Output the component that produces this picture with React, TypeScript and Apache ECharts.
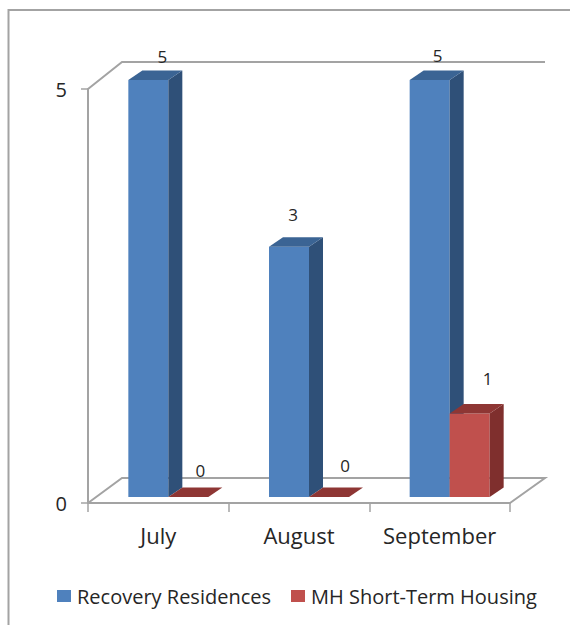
import React, { useEffect, useRef } from "react";
import * as echarts from "echarts";

const categories = ["July", "August", "September"];
const recoveryResidences = [5, 3, 5];
const shortTermHousing = [0, 0, 1];
const seriesNames = ["Recovery Residences", "MH Short-Term Housing"];
const recoveryLabelNudge = [[14, -24], [4, -32], [8, -25]];
const housingLabelNudge = [[12, -27], [16, -32], [18, -35]];

const FONT = "Open Sans";
const AXIS = "#a3a3a3";
const TEXT = "#262626";
const BAR_W = 40;
const DEPTH_X = 14;
const DEPTH_Y = 9.5;

const bar3d = (side: number, front: string, sideC: string, topC: string, nudges: number[][]) =>
  (_: any, api: any) => {
    const idx = api.value(0);
    const val = api.value(1);
    const [cx, y] = api.coord([idx, val]);
    const [, y0] = api.coord([idx, 0]);
    const x0 = side < 0 ? cx - BAR_W : cx;
    const x1 = x0 + BAR_W;
    const children: any[] = [];
    if (y0 - y > 0.5) {
      children.push({ type: "rect", shape: { x: x0, y, width: BAR_W, height: y0 - y }, style: { fill: front } });
      children.push({
        type: "polygon",
        shape: { points: [[x1, y], [x1 + DEPTH_X, y - DEPTH_Y], [x1 + DEPTH_X, y0 - DEPTH_Y], [x1, y0]] },
        style: { fill: sideC },
      });
    }
    children.push({
      type: "polygon",
      shape: { points: [[x0, y], [x1, y], [x1 + DEPTH_X, y - DEPTH_Y], [x0 + DEPTH_X, y - DEPTH_Y]] },
      style: { fill: topC },
    });
    const n = nudges[idx];
    children.push({
      type: "text",
      style: {
        x: (x0 + x1) / 2 + n[0],
        y: y + n[1],
        text: String(val),
        fill: TEXT,
        font: `17px "${FONT}"`,
        textAlign: "center",
        textVerticalAlign: "middle",
      },
    });
    return { type: "group", children };
  };

const frameLine = (points: number[][]) => ({
  type: "polyline",
  z: 0,
  shape: { points },
  style: { stroke: AXIS, lineWidth: 2, fill: "none" },
});

export default function App() {
  const ref = useRef<HTMLDivElement>(null);
  useEffect(() => {
    const chart = echarts.init(ref.current!, undefined, { renderer: "svg" });
    chart.setOption({
      animation: false,
      backgroundColor: "#ffffff",
      grid: [
        { left: 88, right: 60, top: 89, bottom: 122 },
        { left: 98, right: 50, top: 80, bottom: 128 },
      ],
      xAxis: [
        {
          type: "category",
          gridIndex: 0,
          data: categories,
          axisLine: { lineStyle: { color: AXIS, width: 2 } },
          axisTick: { show: true, interval: 0, length: 9, alignWithLabel: false, lineStyle: { color: AXIS, width: 1.5 } },
          axisLabel: { interval: 0, color: TEXT, fontFamily: FONT, fontSize: 22, margin: 21 },
        },
        { type: "category", gridIndex: 1, data: categories, show: false },
      ],
      yAxis: [
        {
          type: "value",
          gridIndex: 0,
          min: 0,
          max: 5,
          interval: 5,
          splitLine: { show: false },
          axisLine: { show: true, lineStyle: { color: AXIS, width: 2 } },
          axisTick: { show: true, length: 7, lineStyle: { color: AXIS, width: 1.5 } },
          axisLabel: { color: TEXT, fontFamily: FONT, fontSize: 20, margin: 21 },
        },
        { type: "value", gridIndex: 1, min: 0, max: 5, interval: 5, show: false },
      ],
      legend: {
        left: 52,
        top: 581,
        itemWidth: 14,
        itemHeight: 12,
        itemGap: 20,
        icon: "rect",
        data: seriesNames,
        textStyle: { color: TEXT, fontFamily: FONT, fontSize: 20, padding: [0, 0, 0, 1] },
      },
      graphic: [
        frameLine([[570, 10], [8.5, 10], [8.5, 625]]),
        frameLine([[88, 89], [122, 62], [545, 62]]),
        frameLine([[88, 503], [122, 478], [545, 478], [510, 503]]),
      ],
      series: [
        {
          type: "custom",
          name: seriesNames[0],
          xAxisIndex: 1,
          yAxisIndex: 1,
          z: 3,
          clip: false,
          itemStyle: { color: "#4f81bd" },
          data: recoveryResidences.map((v, i) => [i, v]),
          renderItem: bar3d(-1, "#4f81bd", "#2f5078", "#3b6494", recoveryLabelNudge),
        },
        {
          type: "custom",
          name: seriesNames[1],
          xAxisIndex: 1,
          yAxisIndex: 1,
          z: 3,
          clip: false,
          itemStyle: { color: "#c0504d" },
          data: shortTermHousing.map((v, i) => [i, v]),
          renderItem: bar3d(1, "#c0504d", "#7f2f2d", "#8e3634", housingLabelNudge),
        },
      ],
    });
    return () => chart.dispose();
  }, []);
  return <div ref={ref} style={{ position: "fixed", left: 0, top: 0, width: 570, height: 625 }} />;
}
